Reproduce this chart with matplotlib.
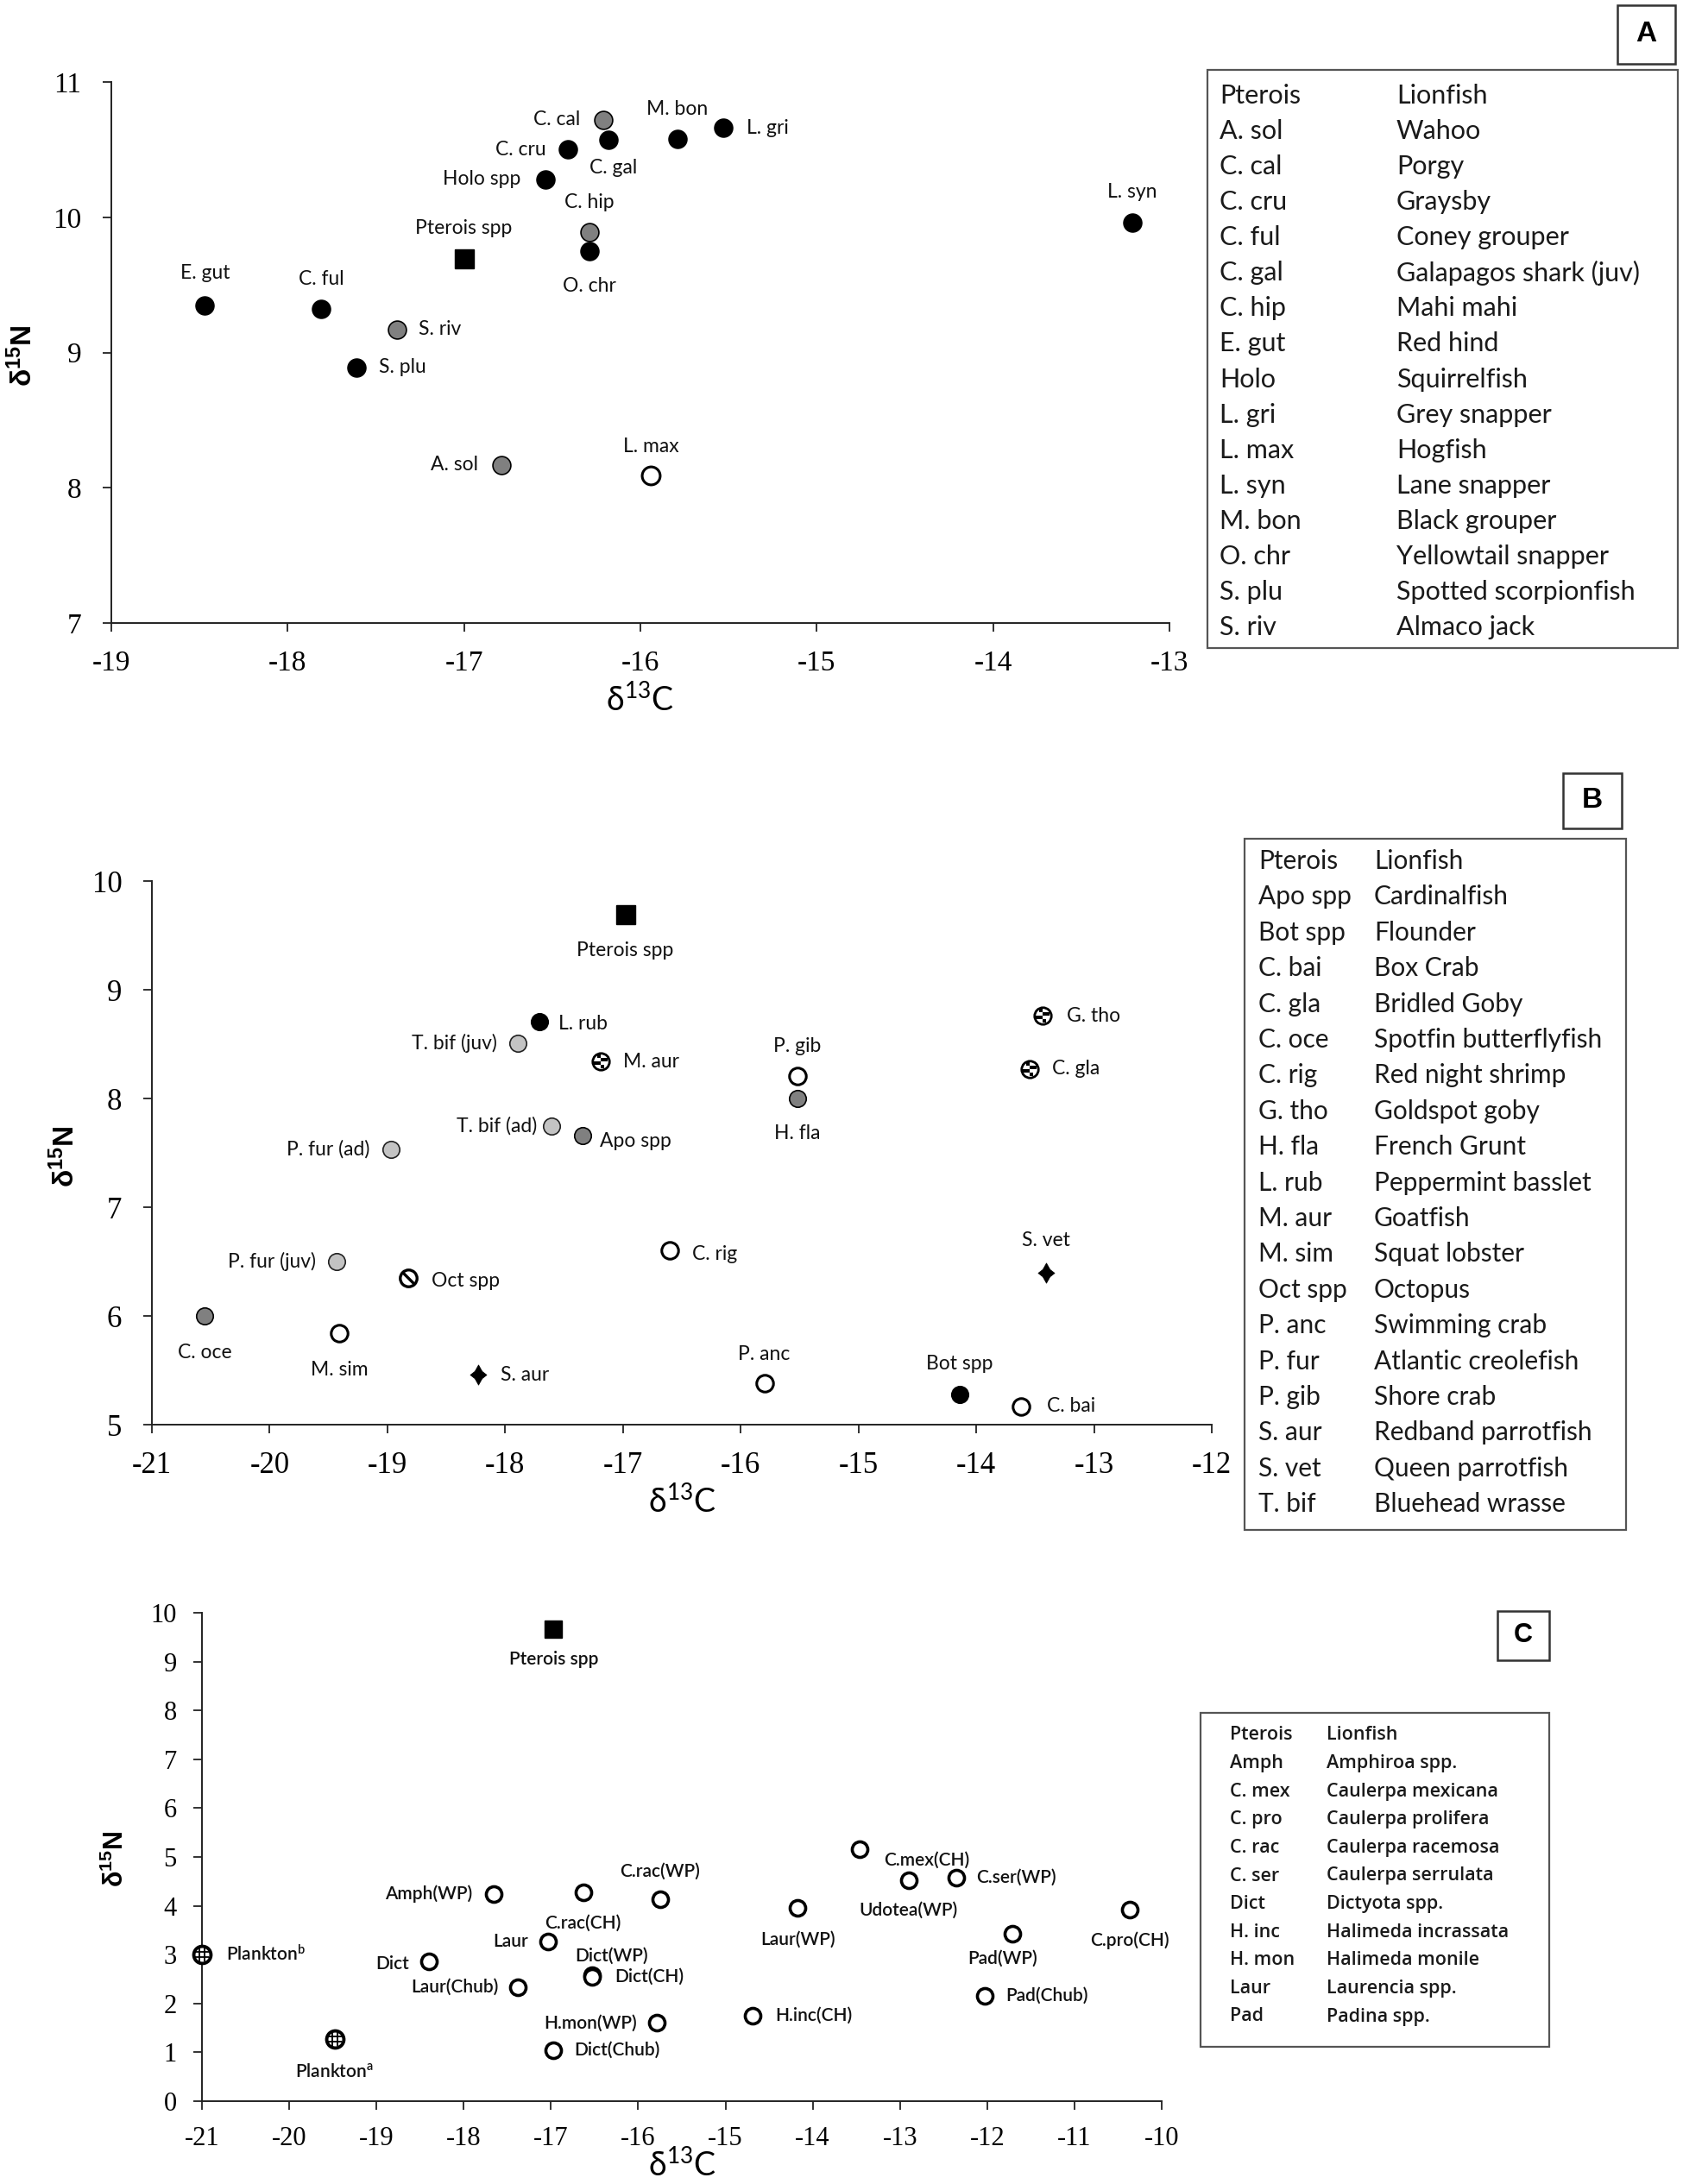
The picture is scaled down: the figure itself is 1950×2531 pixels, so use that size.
import matplotlib
matplotlib.use('Agg')
import matplotlib.pyplot as plt
from matplotlib.path import Path
from matplotlib.patches import Rectangle

plt.rcParams['axes.unicode_minus'] = False

W, H = 1950, 2531

# ---------------- panel A: predator fish ----------------
a_names = ['Pterois spp', 'E. gut', 'C. ful', 'S. riv', 'S. plu', 'A. sol', 'L. max',
           'C. cal', 'C. cru', 'C. gal', 'Holo spp', 'C. hip', 'O. chr', 'M. bon',
           'L. gri', 'L. syn']
a_d13c = [-17.0, -18.47, -17.81, -17.38, -17.61, -16.79, -15.94,
          -16.21, -16.41, -16.18, -16.54, -16.29, -16.29, -15.79,
          -15.53, -13.21]
a_d15n = [9.69, 9.35, 9.32, 9.17, 8.89, 8.17, 8.09,
          10.72, 10.50, 10.57, 10.28, 9.89, 9.75, 10.58,
          10.66, 9.96]
a_kind = ['square', 'black', 'black', 'gray', 'black', 'gray', 'open',
          'gray', 'black', 'black', 'black', 'gray', 'black', 'black',
          'black', 'black']
a_key_codes = ['Pterois', 'A. sol', 'C. cal', 'C. cru', 'C. ful', 'C. gal', 'C. hip',
               'E. gut', 'Holo', 'L. gri', 'L. max', 'L. syn', 'M. bon', 'O. chr',
               'S. plu', 'S. riv']
a_key_names = ['Lionfish', 'Wahoo', 'Porgy', 'Graysby', 'Coney grouper',
               'Galapagos shark (juv)', 'Mahi mahi', 'Red hind', 'Squirrelfish',
               'Grey snapper', 'Hogfish', 'Lane snapper', 'Black grouper',
               'Yellowtail snapper', 'Spotted scorpionfish', 'Almaco jack']

# ---------------- panel B: prey fish and invertebrates ----------------
b_names = ['Pterois spp', 'L. rub', 'T. bif (juv)', 'M. aur', 'P. gib', 'H. fla',
           'G. tho', 'C. gla', 'T. bif (ad)', 'Apo spp', 'P. fur (ad)', 'C. rig',
           'S. vet', 'P. fur (juv)', 'Oct spp', 'C. oce', 'M. sim', 'S. aur',
           'P. anc', 'Bot spp', 'C. bai']
b_d13c = [-16.98, -17.71, -17.89, -17.19, -15.52, -15.52,
          -13.44, -13.55, -17.61, -17.34, -18.97, -16.60,
          -13.41, -19.43, -18.82, -20.55, -19.41, -18.23,
          -15.80, -14.14, -13.62]
b_d15n = [9.69, 8.71, 8.51, 8.34, 8.21, 8.00,
          8.76, 8.27, 7.75, 7.66, 7.53, 6.60,
          6.40, 6.50, 6.35, 6.00, 5.84, 5.46,
          5.38, 5.28, 5.17]
b_kind = ['square', 'black', 'light', 'check', 'open', 'dark',
          'check', 'check', 'light', 'dark', 'light', 'open',
          'diamond', 'light', 'slash', 'dark', 'open', 'diamond',
          'open', 'black', 'open']
b_key_codes = ['Pterois', 'Apo spp', 'Bot spp', 'C. bai', 'C. gla', 'C. oce', 'C. rig',
               'G. tho', 'H. fla', 'L. rub', 'M. aur', 'M. sim', 'Oct spp', 'P. anc',
               'P. fur', 'P. gib', 'S. aur', 'S. vet', 'T. bif']
b_key_names = ['Lionfish', 'Cardinalfish', 'Flounder', 'Box Crab', 'Bridled Goby',
               'Spotfin butterflyfish', 'Red night shrimp', 'Goldspot goby',
               'French Grunt', 'Peppermint basslet', 'Goatfish', 'Squat lobster',
               'Octopus', 'Swimming crab', 'Atlantic creolefish', 'Shore crab',
               'Redband parrotfish', 'Queen parrotfish', 'Bluehead wrasse']

# ---------------- panel C: primary producers ----------------
c_names = ['Pterois spp', 'Plankton$\\mathregular{^b}$', 'Plankton$\\mathregular{^a}$',
           'Amph(WP)', 'C.rac(CH)', 'C.rac(WP)', 'Laur', 'Dict', 'Laur(Chub)',
           'Dict(WP)', 'Dict(CH)', 'H.mon(WP)', 'Dict(Chub)', 'H.inc(CH)',
           'Laur(WP)', 'C.mex(CH)', 'Udotea(WP)', 'C.ser(WP)', 'Pad(WP)',
           'Pad(Chub)', 'C.pro(CH)']
c_d13c = [-16.97, -21.0, -19.48,
          -17.66, -16.63, -15.75, -17.03, -18.40, -17.38,
          -16.53, -16.53, -15.79, -16.97, -14.69,
          -14.17, -13.46, -12.90, -12.35, -11.71,
          -12.03, -10.37]
c_d15n = [9.67, 3.01, 1.27,
          4.24, 4.27, 4.14, 3.26, 2.87, 2.34,
          2.58, 2.55, 1.60, 1.04, 1.75,
          3.95, 5.16, 4.53, 4.58, 3.43,
          2.16, 3.93]
c_kind = ['square', 'plankton', 'plankton'] + ['ring'] * 18
c_key_codes = ['Pterois', 'Amph', 'C. mex', 'C. pro', 'C. rac', 'C. ser', 'Dict',
               'H. inc', 'H. mon', 'Laur', 'Pad']
c_key_names = ['Lionfish', 'Amphiroa spp.', 'Caulerpa mexicana', 'Caulerpa prolifera',
               'Caulerpa racemosa', 'Caulerpa serrulata', 'Dictyota spp.',
               'Halimeda incrassata', 'Halimeda monile', 'Laurencia spp.', 'Padina spp.']

# label placement (offset in output pixels, alignment) -- layout only
a_lab = {'Pterois spp': (0, 36, 'center'), 'E. gut': (0, 37, 'center'),
         'C. ful': (0, 35, 'center'), 'S. riv': (25, 0, 'left'),
         'S. plu': (26, 0, 'left'), 'A. sol': (-27, 0, 'right'),
         'L. max': (0, 34, 'center'), 'C. cal': (-27, 0, 'right'),
         'C. cru': (-26, 0, 'right'), 'C. gal': (5, -32, 'center'),
         'Holo spp': (-28, 0, 'right'), 'C. hip': (0, 34, 'center'),
         'O. chr': (0, -41, 'center'), 'M. bon': (0, 34, 'center'),
         'L. gri': (27, 0, 'left'), 'L. syn': (0, 36, 'center')}
b_lab = {'Pterois spp': (0, -41, 'center'), 'L. rub': (22, -3, 'left'),
         'T. bif (juv)': (-24, 0, 'right'), 'M. aur': (26, 0, 'left'),
         'P. gib': (0, 34, 'center'), 'H. fla': (0, -40, 'center'),
         'G. tho': (28, 0, 'left'), 'C. gla': (26, 0, 'left'),
         'T. bif (ad)': (-16, 0, 'right'), 'Apo spp': (20, -7, 'left'),
         'P. fur (ad)': (-25, 0, 'right'), 'C. rig': (26, -4, 'left'),
         'S. vet': (0, 37, 'center'), 'P. fur (juv)': (-24, 0, 'right'),
         'Oct spp': (27, -4, 'left'), 'C. oce': (0, -42, 'center'),
         'M. sim': (0, -42, 'center'), 'S. aur': (26, 0, 'left'),
         'P. anc': (0, 34, 'center'), 'Bot spp': (0, 35, 'center'),
         'C. bai': (30, 0, 'left')}
c_lab = {'Pterois spp': (0, -35, 'center'), 'Plankton$\\mathregular{^b}$': (28, 0, 'left'),
         'Plankton$\\mathregular{^a}$': (0, -38, 'center'), 'Amph(WP)': (-24, 0, 'right'),
         'C.rac(CH)': (0, -35, 'center'), 'C.rac(WP)': (0, 32, 'center'),
         'Laur': (-23, 0, 'right'), 'Dict': (-23, -3, 'right'),
         'Laur(Chub)': (-22, 0, 'right'), 'Dict(WP)': (23, 22, 'center'),
         'Dict(CH)': (26, 0, 'left'), 'H.mon(WP)': (-23, 0, 'right'),
         'Dict(Chub)': (24, 0, 'left'), 'H.inc(CH)': (26, 0, 'left'),
         'Laur(WP)': (0, -36, 'center'), 'C.mex(CH)': (28, -13, 'left'),
         'Udotea(WP)': (0, -35, 'center'), 'C.ser(WP)': (23, 0, 'left'),
         'Pad(WP)': (-12, -29, 'center'), 'Pad(Chub)': (24, 0, 'left'),
         'C.pro(CH)': (0, -36, 'center')}


def squares(centers, s):
    verts, codes = [], []
    for cx, cy in centers:
        verts += [(cx - s / 2, cy - s / 2), (cx + s / 2, cy - s / 2),
                  (cx + s / 2, cy + s / 2), (cx - s / 2, cy + s / 2), (0, 0)]
        codes += [Path.MOVETO, Path.LINETO, Path.LINETO, Path.LINETO, Path.CLOSEPOLY]
    return Path(verts, codes)


# checker: 4x4 cells, black on alternate cells that fall inside the ring
CHECK = squares([(-0.5, 1.5), (1.5, 0.5), (-1.5, -0.5), (0.5, -1.5),
                 (0.5, 0.5), (-0.5, -0.5)], 1.0)
SLASH = Path([(-1, 1), (1, -1)])
GRID = Path([(-0.35, -1), (-0.35, 1), (0.35, -1), (0.35, 1),
             (-1, -0.35), (1, -0.35), (-1, 0.35), (1, 0.35)],
            [Path.MOVETO, Path.LINETO] * 4)
STAR = Path([(0, 1), (0.36, 0.36), (0.82, 0), (0.36, -0.36), (0, -1),
             (-0.36, -0.36), (-0.82, 0), (-0.36, 0.36), (0, 1)])


def draw_point(ax, x, y, kind, ms):
    kw = dict(linestyle='none', clip_on=False, zorder=3)
    if kind == 'square':
        ax.plot(x, y, marker='s', ms=ms * 1.1, mfc='black', mec='black', **kw)
    elif kind == 'black':
        ax.plot(x, y, marker='o', ms=ms, mfc='black', mec='black', mew=1.2, **kw)
    elif kind in ('gray', 'dark'):
        ax.plot(x, y, marker='o', ms=ms, mfc='#808080', mec='black', mew=1.2, **kw)
    elif kind == 'light':
        ax.plot(x, y, marker='o', ms=ms, mfc='#c3c3c3', mec='#222222', mew=1.2, **kw)
    elif kind == 'open':
        ax.plot(x, y, marker='o', ms=ms, mfc='white', mec='black', mew=2.2, **kw)
    elif kind == 'ring':
        ax.plot(x, y, marker='o', ms=ms, mfc='white', mec='black', mew=2.6, **kw)
    elif kind == 'check':
        ax.plot(x, y, marker='o', ms=ms, mfc='white', mec='black', mew=2.0, **kw)
        ax.plot(x, y, marker=CHECK, ms=ms * 0.78, mfc='black', mec='black', mew=0, **kw)
    elif kind == 'slash':
        ax.plot(x, y, marker='o', ms=ms, mfc='white', mec='black', mew=2.4, **kw)
        ax.plot(x, y, marker=SLASH, ms=ms * 0.7, mec='black', mew=2.4, **kw)
    elif kind == 'plankton':
        ax.plot(x, y, marker='o', ms=ms * 1.1, mfc='white', mec='black', mew=2.8, **kw)
        ax.plot(x, y, marker=GRID, ms=ms * 0.85, mec='black', mew=1.3, **kw)
    elif kind == 'diamond':
        ax.plot(x, y, marker=STAR, ms=ms * 1.2, mfc='black', mec='black', mew=0.5, **kw)


fig = plt.figure(figsize=(W / 100, H / 100), dpi=100)


def add_ax(x0, y0, x1, y1):
    return fig.add_axes([x0 / W, 1 - y1 / H, (x1 - x0) / W, (y1 - y0) / H])


def style_ax(ax, xlim, ylim, tsize, xpad, ypad):
    ax.set_xlim(*xlim)
    ax.set_ylim(*ylim)
    ax.set_xticks(range(xlim[0], xlim[1] + 1))
    ax.set_yticks(range(ylim[0], ylim[1] + 1))
    for s in ('top', 'right'):
        ax.spines[s].set_visible(False)
    for s in ('left', 'bottom'):
        ax.spines[s].set_linewidth(1.4)
        ax.spines[s].set_color('#222222')
    ax.tick_params(direction='out', length=7, width=1.3, color='#222222')
    ax.tick_params(axis='x', pad=xpad)
    ax.tick_params(axis='y', pad=ypad)
    for lab in ax.get_xticklabels() + ax.get_yticklabels():
        lab.set_fontfamily('Liberation Serif')
        lab.set_fontsize(tsize)
    ax.set_facecolor('none')


def plot_panel(ax, names, xs, ys, kinds, labs, ms, lsize, weight='normal'):
    for n, x, y, k in zip(names, xs, ys, kinds):
        draw_point(ax, x, y, k, ms)
        dx, dy, ha = labs[n]
        ax.annotate(n, (x, y), xytext=(dx, dy), textcoords='offset pixels',
                    ha=ha, va='center', fontsize=lsize, family='Lato',
                    weight=weight, color='#111111', zorder=4)


def key_box(x0, y0, x1, y1, codes, names, ytop, step, cx1, cx2, size, family,
            weight='normal'):
    fig.patches.append(Rectangle((x0 / W, 1 - y1 / H), (x1 - x0) / W, (y1 - y0) / H,
                                 transform=fig.transFigure, fill=False,
                                 edgecolor='#555555', linewidth=1.6))
    for i, (c, n) in enumerate(zip(codes, names)):
        yy = 1 - (ytop + i * step) / H
        fig.text(cx1 / W, yy, c, ha='left', va='center', fontsize=size,
                 family=family, weight=weight, color='#1a1a1a')
        fig.text(cx2 / W, yy, n, ha='left', va='center', fontsize=size,
                 family=family, weight=weight, color='#1a1a1a')


def tag_box(cx, cy, w, h, letter, size):
    fig.patches.append(Rectangle(((cx - w / 2) / W, 1 - (cy + h / 2) / H), w / W, h / H,
                                 transform=fig.transFigure, fill=False,
                                 edgecolor='#333333', linewidth=1.8))
    fig.text(cx / W, 1 - cy / H, letter, ha='center', va='center', fontsize=size,
             family='Liberation Sans', weight='bold')


def axis_titles(ylx, yly, xlx, xly, ysize, xsize):
    fig.text(ylx / W, 1 - yly / H, 'δ$\\mathregular{^{15}}$N', rotation=90,
             ha='center', va='center', fontsize=ysize, family='Liberation Sans',
             weight='bold')
    fig.text(xlx / W, 1 - xly / H, 'δ$\\mathregular{^{13}}$C', ha='center', va='center',
             fontsize=xsize, family='Lato')


# panel A
axA = add_ax(129, 95, 1355, 722)
style_ax(axA, (-19, -13), (7, 11), 24, 16, 18)
plot_panel(axA, a_names, a_d13c, a_d15n, a_kind, a_lab, 15, 16.5)
axis_titles(27, 412, 741, 811, 24, 27)
key_box(1399, 81, 1944, 751, a_key_codes, a_key_names, 111, 41.07, 1413, 1618, 22, 'Lato')
tag_box(1907, 40, 67, 68, 'A', 24)

# panel B
axB = add_ax(176, 1021, 1404, 1651)
style_ax(axB, (-21, -12), (5, 10), 25, 15, 18)
plot_panel(axB, b_names, b_d13c, b_d15n, b_kind, b_lab, 14, 16.5)
axis_titles(76, 1340, 790, 1740, 24, 27)
key_box(1442, 972, 1884, 1773, b_key_codes, b_key_names, 998, 41.4, 1458, 1592, 21.5, 'Lato')
tag_box(1845, 928, 68, 64, 'B', 24)

# panel C
axC = add_ax(234, 1869, 1346, 2435)
style_ax(axC, (-21, -10), (0, 10), 22, 14, 14)
plot_panel(axC, c_names, c_d13c, c_d15n, c_kind, c_lab, 13, 15, weight='semibold')
axis_titles(134, 2154, 790, 2509, 22, 27)
key_box(1391, 1985, 1795, 2372, c_key_codes, c_key_names, 2011, 32.6, 1425, 1537, 15.5,
        'Open Sans', weight='semibold')
tag_box(1765, 1895, 60, 57, 'C', 22)

fig.savefig('out.png', dpi=100, facecolor='white')
